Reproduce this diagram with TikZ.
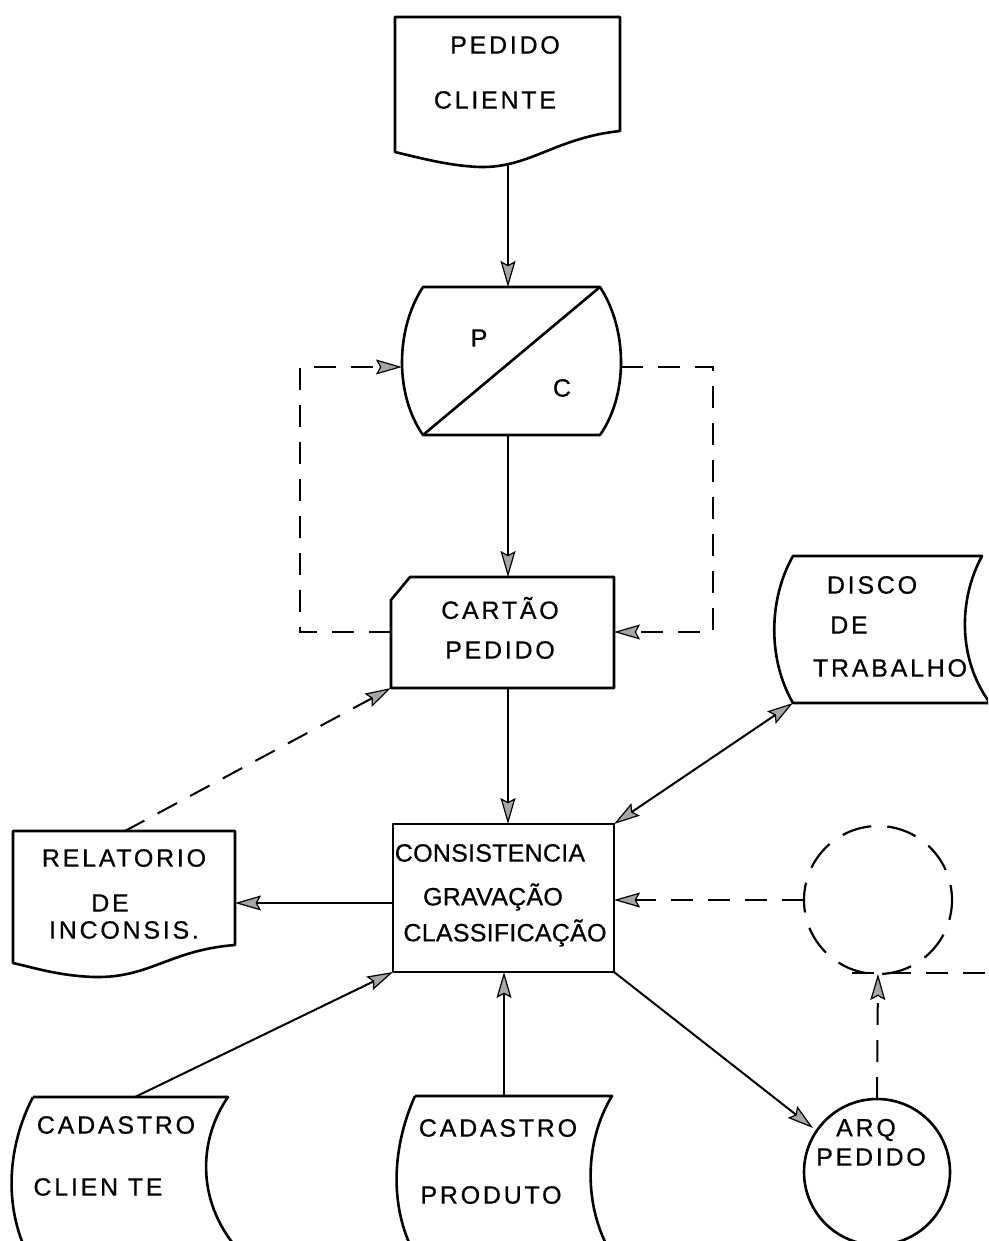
\documentclass[tikz,border=0pt]{standalone}
\usepackage{fontspec}
\usetikzlibrary{arrows.meta}
\newfontfamily\hand[LetterSpace=11,FakeBold=0.6]{Liberation Sans}
\newfontfamily\handn[LetterSpace=1,FakeBold=0.6]{Liberation Sans}
\begin{document}
\begin{tikzpicture}[x=1pt,y=-1pt,
  symb/.style={draw, line width=2.6pt, line join=round},
  arw/.tip={Stealth[length=26pt,width=15pt,inset=4pt,fill=gray!70,line width=1.2pt]},
  tip/.style={-arw},
  flow/.style={line width=2pt, tip},
  dflow/.style={line width=2pt, tip, dash pattern=on 22pt off 15pt},
  dline/.style={line width=2pt, dash pattern=on 22pt off 15pt},
  lbl/.style={font=\hand\fontsize{25}{28}\selectfont, inner sep=0pt},
  lbln/.style={font=\handn\fontsize{25}{28}\selectfont, inner sep=0pt}]
\useasboundingbox (0,0) rectangle (988,1241);
\clip (0,0) rectangle (988,1241);

% ---------- shapes ----------
% top document: PEDIDO CLIENTE
\draw[symb] (395,17) -- (620,17) -- (620,131)
  .. controls (555,138) and (530,168) .. (480,167)
  .. controls (450,166) and (420,158) .. (395,152) -- cycle;
\node[lbl] (t1) at (505,45) {PEDIDO};
\node[lbl] (t2) at (495,100) {CLIENTE};
\coordinate (docB) at (508,164);

% P / C shape
\draw[symb] (423,287) -- (600,287)
  .. controls (628,330) and (628,395) .. (600,435)
  -- (423,435)
  .. controls (395,395) and (395,330) .. (423,287) -- cycle;
\draw[symb] (423,435) -- (600,287);
\node[lbl] (p) at (479,338) {P};
\node[lbl] (c) at (562,388) {C};
\coordinate (pcT) at (508,287);
\coordinate (pcB) at (508,435);
\coordinate (pcL) at (402,367);
\coordinate (pcR) at (621,367);

% CARTAO PEDIDO (punched card)
\draw[symb] (410,577) -- (614,577) -- (614,688) -- (391,688) -- (391,600) -- cycle;
\node[lbl] (t3) at (500,608) {CARTÃO};
\node[lbl] (t4) at (500,650) {PEDIDO};
\coordinate (caT) at (508,577);
\coordinate (caB) at (508,688);
\coordinate (caL) at (391,632);
\coordinate (caR) at (614,632);
\coordinate (caBL) at (391,688);

% DISCO DE TRABALHO (stored data)
\draw[symb] (793,556) -- (982,556)
  .. controls (958,600) and (958,660) .. (990,703)
  -- (793,703)
  .. controls (768,660) and (768,600) .. (793,556) -- cycle;
\node[lbl] (t5) at (872,585) {DISCO};
\node[lbl] (t6) at (849,625) {DE};
\node[lbl] (t7) at (890,668) {TRABALHO};
\coordinate (diBL) at (793,703);

% CONSISTENCIA box
\draw[symb] (393,824) rectangle (614,972);
\node[lbln] (t8) at (490,853) {CONSISTENCIA};
\node[lbln] (t9) at (493,897) {GRAVAÇÃO};
\node[lbln] (t10) at (505,933) {CLASSIFICAÇÃO};
\coordinate (coT) at (508,824);
\coordinate (coL) at (393,903);
\coordinate (coR) at (614,900);
\coordinate (coTR) at (614,824);
\coordinate (coBR) at (614,972);
\coordinate (coBL) at (393,972);
\coordinate (coB) at (504,972);

% RELATORIO document
\draw[symb] (13,831) -- (235,831) -- (235,945)
  .. controls (170,950) and (150,978) .. (95,977)
  .. controls (60,976) and (35,968) .. (13,963) -- cycle;
\node[lbl] (t11) at (124,858) {RELATORIO};
\node[lbl] (t12) at (110,903) {DE};
\node[lbl] (t13) at (124,930) {INCONSIS.};
\coordinate (reT) at (125,831);
\coordinate (reR) at (235,903);

% dashed circle (connector)
\draw[line width=2.2pt, dash pattern=on 30pt off 16pt, dash phase=10pt] (878,900) circle (74);
\coordinate (ciL) at (804,900);
\coordinate (ciB) at (878,974);
\coordinate (ciBL) at (852,973);
\coordinate (ciE) at (990,973);

% ARQ PEDIDO circle
\draw[symb] (877,1172) circle (73);
\node[lbl] (t14) at (866,1130) {ARQ};
\node[lbl] (t15) at (871,1157) {PEDIDO};
\coordinate (arT) at (877,1099);
\coordinate (arL) at (813,1128);

% CADASTRO CLIENTE (stored data)
\draw[symb] (33,1097) -- (228,1097)
  .. controls (198,1140) and (195,1205) .. (243,1255);
\draw[symb] (33,1097) .. controls (8,1145) and (3,1205) .. (28,1255);
\node[lbl] (t16) at (116,1125) {CADASTRO};
\node[lbl] (t17) at (98,1187) {CLIEN TE};
\coordinate (ccT) at (135,1097);

% CADASTRO PRODUTO (stored data)
\draw[symb] (415,1096) -- (612,1096)
  .. controls (585,1140) and (582,1205) .. (612,1255);
\draw[symb] (415,1096) .. controls (393,1145) and (388,1205) .. (415,1255);
\node[lbl] (t18) at (498,1128) {CADASTRO};
\node[lbl] (t19) at (491,1195) {PRODUTO};
\coordinate (cpT) at (504,1096);

% ---------- connectors ----------
\draw[flow] (docB) -- (pcT);
\draw[flow] (pcB) -- (caT);
\draw[dflow] (caL) -- (300,632) -- (300,367) -- (pcL);
\draw[dflow] (pcR) -- (713,367) -- (713,632) -- (caR);
\draw[dflow] (reT) -- (caBL);
\draw[flow] (caB) -- (coT);
\draw[line width=2pt, arw-arw] (diBL) -- (coTR);
\draw[flow] (coL) -- (reR);
\draw[dflow] (ciL) -- (coR);
\draw[dline] (ciBL) -- (ciE);
\draw[dflow] (arT) -- (ciB);
\draw[flow] (coBR) -- (arL);
\draw[flow] (ccT) -- (coBL);
\draw[flow] (cpT) -- (coB);
\end{tikzpicture}
\end{document}
